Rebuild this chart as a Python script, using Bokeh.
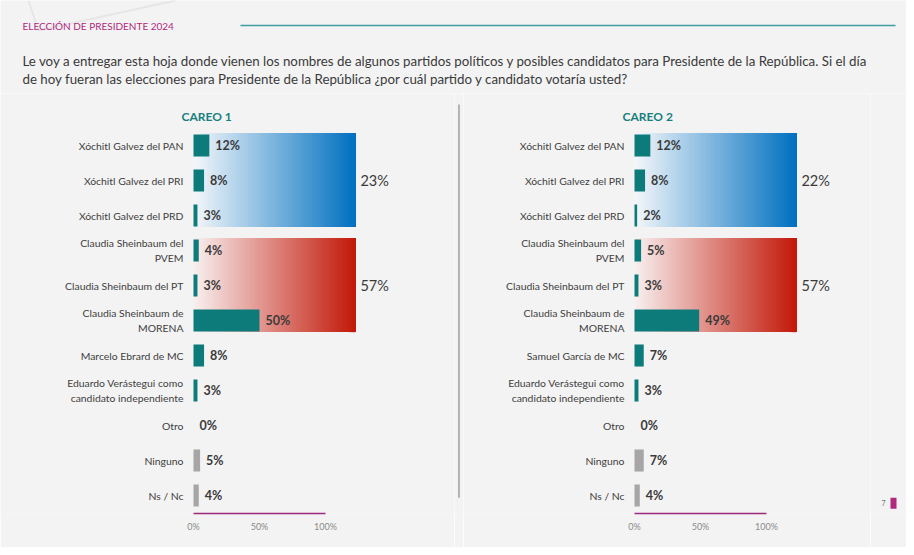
import numpy as np
from bokeh.plotting import figure
from bokeh.layouts import row, column
from bokeh.models import Range1d, FixedTicker, PrintfTickFormatter
from bokeh.core.properties import value
from bokeh.embed import file_html
from bokeh.resources import INLINE

# ---------------- data ----------------
header_title = "ELECCIÓN DE PRESIDENTE 2024"
question_lines = [
    "Le voy a entregar esta hoja donde vienen los nombres de algunos partidos políticos y posibles candidatos para Presidente de la República. Si el día",
    "de hoy fueran las elecciones para Presidente de la República ¿por cuál partido y candidato votaría usted?",
]
panel_titles = ["CAREO 1", "CAREO 2"]
categories_1 = [
    "Xóchitl Galvez del PAN", "Xóchitl Galvez del PRI", "Xóchitl Galvez del PRD",
    "Claudia Sheinbaum del\nPVEM", "Claudia Sheinbaum del PT", "Claudia Sheinbaum de\nMORENA",
    "Marcelo Ebrard de MC", "Eduardo Verástegui como\ncandidato independiente",
    "Otro", "Ninguno", "Ns / Nc",
]
categories_2 = [
    "Xóchitl Galvez del PAN", "Xóchitl Galvez del PRI", "Xóchitl Galvez del PRD",
    "Claudia Sheinbaum del\nPVEM", "Claudia Sheinbaum del PT", "Claudia Sheinbaum de\nMORENA",
    "Samuel García de MC", "Eduardo Verástegui como\ncandidato independiente",
    "Otro", "Ninguno", "Ns / Nc",
]
values_1 = [12, 8, 3, 4, 3, 50, 8, 3, 0, 5, 4]
values_2 = [12, 8, 2, 5, 3, 49, 7, 3, 0, 7, 4]
bar_kind = ["cand"] * 8 + ["other"] * 3
group_rows = [[0, 1, 2], [3, 4, 5]]
group_totals_1 = [23, 57]
group_totals_2 = [22, 57]
tick_values = [0, 50, 100]
page_number = "7"

# ---------------- style ----------------
FONT = "Lato"
BG = "#f3f3f3"
TEAL = "#0e7b7b"
GREY = "#a6a6a6"
DARK = "#3a3a3a"
MAGENTA = "#b0297e"
BOX_END = 122.7
GRAD = [((244, 247, 250), (0, 112, 192)), ((248, 240, 240), (194, 24, 8))]


def base_fig(width, height, xr, yr, **kw):
    p = figure(width=width, height=height, x_range=xr, y_range=yr,
               output_backend="svg", toolbar_location=None,
               background_fill_color=BG, border_fill_color=BG,
               outline_line_color=None, min_border=0, **kw)
    p.grid.visible = False
    return p


# ---------------- header ----------------
hdr = base_fig(906, 93, Range1d(0, 906), Range1d(93, 0),
               x_axis_location=None, y_axis_location=None)
hdr.line(x=[28, 38, 175], y=[0, 30, 0], line_color="#e6e6e6", line_width=2)
hdr.text(x=[22], y=[25], text=[header_title], text_font=value(FONT),
         text_font_size="10px", text_color=MAGENTA, text_baseline="middle")
hdr.segment(x0=[240], y0=[25], x1=[895], y1=[25], line_color="#3f9ca4", line_width=1.3)
hdr.text(x=[22, 22], y=[60, 78], text=question_lines, text_font=value(FONT),
         text_font_size="13.3px", text_color="#3a3a3a", text_baseline="middle")


# ---------------- panels ----------------
def make_panel(title, cats, vals, totals, width, x_start, x_end):
    p = base_fig(width, 454, Range1d(x_start, x_end), Range1d(10.514, -1.486),
                 x_axis_location="below", y_axis_location=None,
                 min_border_bottom=34)
    rows = list(range(len(cats)))
    # gradient group boxes
    for g, grows in enumerate(group_rows):
        c0, c1 = GRAD[g]
        n = 120
        lefts = np.linspace(0, BOX_END, n + 1)[:-1]
        t = (np.arange(n) + 0.5) / n
        cols = ["#%02x%02x%02x" % tuple(int(round(a + (b - a) * tt)) for a, b in zip(c0, c1)) for tt in t]
        top = min(grows) - 0.34
        bottom = max(grows) + 0.33
        p.quad(left=lefts, right=[BOX_END] * n, top=[top] * n, bottom=[bottom] * n,
               fill_color=cols, line_color=None)
        p.text(x=[BOX_END], y=[float(np.mean(grows))], text=[f"{totals[g]}%"],
               x_offset=5, text_font=value(FONT), text_font_size="14.5px",
               text_color=DARK, text_baseline="middle", text_align="left")
    colors = [TEAL if k == "cand" else GREY for k in bar_kind]
    p.hbar(y=rows, left=0, right=vals, height=0.63, fill_color=colors, line_color=None)
    p.text(x=vals, y=rows, text=[f"{v}%" for v in vals], x_offset=6,
           text_font=value(FONT), text_font_size="12.5px", text_font_style="bold",
           text_color=DARK, text_baseline="middle", text_align="left")
    p.text(x=[0] * len(cats), y=rows, text=cats, x_offset=-10,
           text_font=value(FONT), text_font_size="10.4px", text_color="#404040",
           text_baseline="middle", text_align="right", text_line_height=1.25)
    p.text(x=[10], y=[-0.83], text=[title], text_font=value(FONT),
           text_font_size="12px", text_font_style="bold", text_color="#17807f",
           text_baseline="middle", text_align="center")
    ax = p.xaxis[0]
    ax.ticker = FixedTicker(ticks=tick_values)
    ax.formatter = PrintfTickFormatter(format="%d%%")
    ax.bounds = (0, 100)
    ax.axis_line_color = "#a0287c"
    ax.axis_line_width = 1.3
    ax.major_tick_line_color = None
    ax.minor_tick_line_color = None
    ax.major_tick_out = 0
    ax.major_label_standoff = 7
    ax.major_label_text_font = FONT
    ax.major_label_text_font_size = "9px"
    ax.major_label_text_color = "#8a8a8a"
    return p


left = make_panel(panel_titles[0], categories_1, values_1, group_totals_1,
                  454, -146.21, 197.73)
div = base_fig(9, 454, Range1d(454, 463), Range1d(547, 93),
               x_axis_location=None, y_axis_location=None)
div.segment(x0=[458.5], y0=[105], x1=[458.5], y1=[530], line_color="#b4b4b4", line_width=2)
right = make_panel(panel_titles[1], categories_2, values_2, group_totals_2,
                   407, -129.55, 178.79)
pn = base_fig(36, 454, Range1d(870, 906), Range1d(547, 93),
              x_axis_location=None, y_axis_location=None)
pn.text(x=[883], y=[536], text=[page_number], text_font=value(FONT),
        text_font_size="7px", text_color="#6a7580", text_baseline="middle", text_align="center")
pn.quad(left=[890], right=[896], top=[530], bottom=[542], fill_color=MAGENTA, line_color=None)

layout = column(hdr, row(left, div, right, pn))
open("out.html", "w").write(file_html(layout, INLINE))
